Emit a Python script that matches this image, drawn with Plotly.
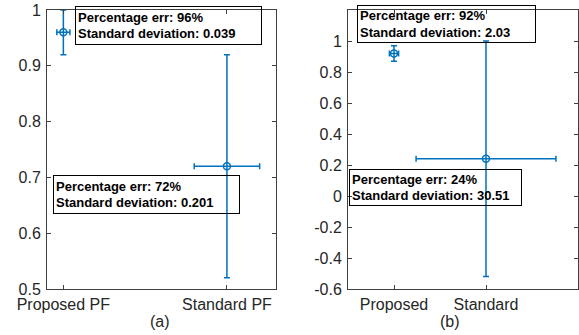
import plotly.graph_objects as go

W, H = 579, 335

# Panel (a)
a_cats = ["Proposed PF", "Standard PF"]
a_x = [1, 2]
a_mean = [0.96, 0.72]
a_err = [0.04, 0.2]
a_yticks = [0.5, 0.6, 0.7, 0.8, 0.9, 1.0]
a_yticklabels = ["0.5", "0.6", "0.7", "0.8", "0.9", "1"]
a_notes = ["Percentage err: 96%<br>Standard deviation: 0.039",
           "Percentage err: 72%<br>Standard deviation: 0.201"]

# Panel (b)
b_cats = ["Proposed", "Standard"]
b_x = [1, 2]
b_mean = [0.92, 0.24]
b_err = [0.05, 0.76]
b_yticks = [-0.6, -0.4, -0.2, 0, 0.2, 0.4, 0.6, 0.8, 1.0]
b_yticklabels = ["-0.6", "-0.4", "-0.2", "0", "0.2", "0.4", "0.6", "0.8", "1"]
b_notes = ["Percentage err: 92%<br>Standard deviation: 2.03",
           "Percentage err: 24%<br>Standard deviation: 30.51"]

BLUE = "#0072BD"
AX = "#404040"
FONT = "Liberation Sans, Arial, Helvetica, sans-serif"

def px_x(p):
    return p / W

def px_y(p):
    return 1 - p / H

fig = go.Figure()

def add_series(x, y, err, xa, ya):
    fig.add_trace(go.Scatter(
        x=x, y=y, mode="markers", xaxis=xa, yaxis=ya,
        marker=dict(symbol="circle-open", size=7, color=BLUE, line=dict(width=1.5, color=BLUE)),
        error_y=dict(type="data", array=err, color=BLUE, thickness=1.5, width=3),
        error_x=dict(type="data", array=err, color=BLUE, thickness=1.5, width=3),
        showlegend=False, cliponaxis=False,
    ))

add_series(a_x, a_mean, a_err, "x", "y")
add_series(b_x, b_mean, b_err, "x2", "y2")

ydom = [px_y(289), px_y(10)]
axis_common = dict(showline=True, linecolor=AX, linewidth=1, mirror="ticks",
                   ticks="inside", ticklen=4, tickcolor=AX, showgrid=False, zeroline=False,
                   automargin=False,
                   tickfont=dict(family=FONT, size=16, color="#262626"))

fig.update_layout(
    width=W, height=H, margin=dict(l=0, r=0, t=0, b=0, autoexpand=False),
    paper_bgcolor="white", plot_bgcolor="white",
    xaxis=dict(domain=[px_x(47), px_x(276)], range=[0.9, 2.3], tickvals=a_x, ticktext=a_cats,
               ticklabelstandoff=1, **axis_common),
    yaxis=dict(domain=ydom, range=[0.5, 1.0], tickvals=a_yticks, ticktext=a_yticklabels,
               ticklabelstandoff=2, **axis_common),
    xaxis2=dict(domain=[px_x(348), px_x(578)], range=[0.5, 3.0], tickvals=b_x, ticktext=b_cats,
                anchor="y2", ticklabelstandoff=1, **axis_common),
    yaxis2=dict(domain=ydom, range=[-0.6, 1.2], tickvals=b_yticks, ticktext=b_yticklabels,
                anchor="x2", ticklabelstandoff=2, **axis_common),
)

def add_box(text, left, top, right, bottom):
    w = right - left
    h = bottom - top
    fig.add_annotation(
        xref="paper", yref="paper", x=px_x(left), y=px_y(top), xanchor="left", yanchor="top",
        text="<b>" + text.replace("<br>", "</b><br><b>") + "</b>", showarrow=False,
        align="left", valign="middle", width=w - 6, height=h - 6, borderpad=2,
        bordercolor="black", borderwidth=1, bgcolor="rgba(0,0,0,0)",
        font=dict(family=FONT, size=13, color="black"),
    )

add_box(a_notes[0], 75, 6, 262, 45)
add_box(a_notes[1], 53, 175, 240, 214)
add_box(b_notes[0], 357, 5, 536, 43)
add_box(b_notes[1], 349, 169, 522, 206)

for lab, cx in [("(a)", 160), ("(b)", 450)]:
    fig.add_annotation(xref="paper", yref="paper", x=px_x(cx), y=px_y(321), text=lab,
                       showarrow=False, xanchor="center", yanchor="middle",
                       font=dict(family=FONT, size=16, color="#262626"))

fig.write_html("out.html", config={"displayModeBar": False},
               post_script="document.body.style.margin='0';document.body.style.overflow='hidden';")
